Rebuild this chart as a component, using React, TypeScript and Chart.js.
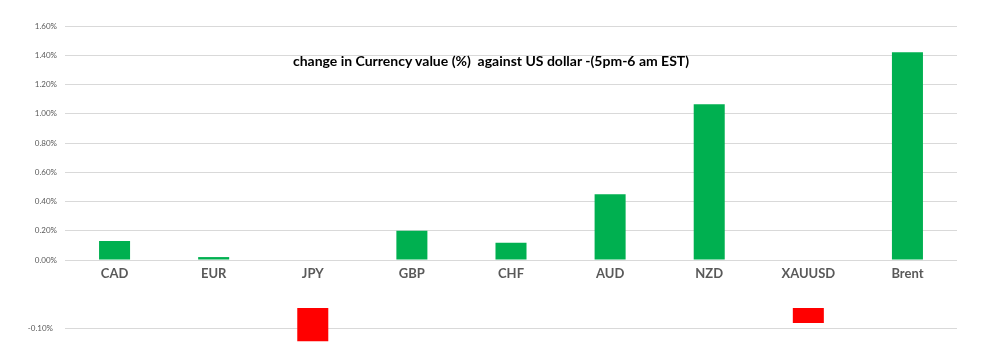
import React, { useEffect, useRef } from "react";
import { Chart, registerables } from "chart.js";

Chart.register(...registerables);

const categories = ["CAD", "EUR", "JPY", "GBP", "CHF", "AUD", "NZD", "XAUUSD", "Brent"];
const changes = [0.13, 0.02, -0.165, 0.2, 0.118, 0.45, 1.065, -0.075, 1.42];
const topAxisMin = 0;
const topAxisMax = 1.6;
const topAxisStep = 0.2;
const bottomAxisMin = -0.2;
const bottomAxisMax = 0;
const bottomAxisTicks = [-0.1];
const titleText = "change in Currency value (%)  against US dollar -(5pm-6 am EST)";

const FONT = 'Lato, "Liberation Sans", sans-serif';
const GREEN = "#00B050";
const RED = "#FF0000";
const GRID = "#d9d9d9";
const LABEL = "#595959";

export default function App() {
  const topRef = useRef<HTMLCanvasElement>(null);
  const botRef = useRef<HTMLCanvasElement>(null);

  useEffect(() => {
    const positives = changes.map((v) => (v > 0 ? v : null));
    const negatives = changes.map((v) => (v < 0 ? v : null));

    const top = new Chart(topRef.current!, {
      type: "bar",
      data: {
        labels: categories,
        datasets: [
          {
            data: positives as any,
            backgroundColor: GREEN,
            barPercentage: 0.313,
            categoryPercentage: 1,
          },
        ],
      },
      options: {
        animation: false,
        responsive: false,
        layout: { padding: { top: 26, left: 0, right: 36, bottom: 0 } },
        plugins: { legend: { display: false }, tooltip: { enabled: false }, title: { display: false } },
        scales: {
          x: {
            grid: { display: false, drawTicks: false },
            border: { display: false },
            ticks: { color: LABEL, padding: 6, font: { family: FONT, size: 13, weight: "bold" } },
            afterFit: (s: any) => {
              s.height = 40;
            },
          },
          y: {
            min: topAxisMin,
            max: topAxisMax,
            grid: { color: GRID, drawTicks: false },
            border: { display: false },
            ticks: {
              stepSize: topAxisStep,
              color: LABEL,
              padding: 8,
              font: { family: FONT, size: 8 },
              callback: (v: any) => Number(v).toFixed(2) + "%",
            },
            afterFit: (s: any) => {
              s.width = 65;
            },
          },
        },
      },
    });

    const bot = new Chart(botRef.current!, {
      type: "bar",
      data: {
        labels: categories,
        datasets: [
          {
            data: negatives as any,
            backgroundColor: RED,
            barPercentage: 0.313,
            categoryPercentage: 1,
          },
        ],
      },
      options: {
        animation: false,
        responsive: false,
        layout: { padding: { top: 18, left: 0, right: 36, bottom: 0 } },
        plugins: { legend: { display: false }, tooltip: { enabled: false } },
        scales: {
          x: { display: false },
          y: {
            min: bottomAxisMin,
            max: bottomAxisMax,
            grid: { color: GRID, drawTicks: false },
            border: { display: false },
            afterBuildTicks: (s: any) => {
              s.ticks = bottomAxisTicks.map((value) => ({ value }));
            },
            ticks: {
              color: LABEL,
              padding: 12,
              font: { family: FONT, size: 8 },
              callback: (v: any) => Number(v).toFixed(2) + "%",
            },
            afterFit: (s: any) => {
              s.width = 65;
            },
          },
        },
      },
    });

    return () => {
      top.destroy();
      bot.destroy();
    };
  }, []);

  return (
    <div
      style={{
        position: "absolute",
        left: 0,
        top: 0,
        width: 993,
        height: 360,
        overflow: "hidden",
        background: "#fff",
      }}
    >
      <canvas ref={topRef} width={993} height={300} style={{ position: "absolute", left: 0, top: 0 }} />
      <canvas ref={botRef} width={993} height={75} style={{ position: "absolute", left: 0, top: 290 }} />
      <div
        style={{
          position: "absolute",
          left: 491,
          top: 60,
          transform: "translate(-50%, -50%)",
          whiteSpace: "pre",
          fontFamily: FONT,
          fontWeight: "bold",
          fontSize: 14,
          color: "#000",
        }}
      >
        {titleText}
      </div>
    </div>
  );
}
